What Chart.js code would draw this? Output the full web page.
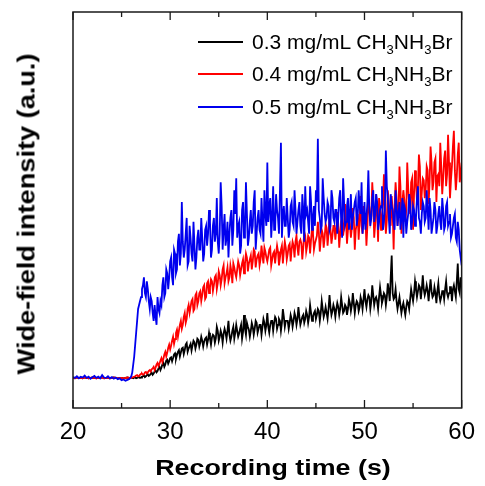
<!DOCTYPE html>
<html><head><meta charset="utf-8">
<script src="https://cdn.jsdelivr.net/npm/chart.js@4.4.1/dist/chart.umd.min.js"></script>
<style>
html,body{margin:0;padding:0;background:#fff;}
#wrap{position:relative;width:485px;height:486px;overflow:hidden;}
canvas{position:absolute;left:0;top:0;}
.leg{position:absolute;left:198px;height:24px;display:flex;align-items:center;font-family:"Liberation Sans",Arial,sans-serif;font-size:21px;color:#000;white-space:nowrap;}
.leg .ln{display:inline-block;width:45px;height:2px;margin-right:9px;}
.leg sub{font-size:13px;vertical-align:-5px;line-height:0;}
.atitle{position:absolute;font-family:"Liberation Sans",Arial,sans-serif;font-weight:bold;color:#000;white-space:nowrap;}
#xt{left:272.5px;top:457.4px;font-size:22px;line-height:22px;transform:translateX(-50%) scaleX(1.22);}
#yt{left:27px;top:214px;font-size:23px;line-height:23px;transform:translate(-50%,-50%) rotate(-90deg) scaleX(1.18);}
</style></head>
<body><div id="wrap"><canvas id="c" width="485" height="486"></canvas>
<div id="legend"></div>
<div id="xt" class="atitle"></div>
<div id="yt" class="atitle"></div>
</div>
<script>
// ---- data ----
const time = [
20.0,20.2,20.4,20.6,20.8,21.0,21.2,21.4,21.6,21.8,
22.0,22.2,22.4,22.6,22.8,23.0,23.2,23.4,23.6,23.8,
24.0,24.2,24.4,24.6,24.8,25.0,25.2,25.4,25.6,25.8,
26.0,26.1,26.2,26.3,26.4,26.5,26.6,26.7,26.8,26.9,
27.0,27.1,27.2,27.3,27.4,27.5,27.6,27.7,27.8,27.9,
28.0,28.1,28.2,28.3,28.4,28.5,28.6,28.7,28.8,28.9,
29.0,29.1,29.2,29.3,29.4,29.5,29.6,29.7,29.8,29.9,
30.0,30.1,30.2,30.3,30.4,30.5,30.6,30.7,30.8,30.9,
31.0,31.1,31.2,31.3,31.4,31.5,31.6,31.7,31.8,31.9,
32.0,32.1,32.2,32.3,32.4,32.5,32.6,32.7,32.8,32.9,
33.0,33.1,33.2,33.3,33.4,33.5,33.6,33.7,33.8,33.9,
34.0,34.1,34.2,34.3,34.4,34.5,34.6,34.7,34.8,34.9,
35.0,35.1,35.2,35.3,35.4,35.5,35.6,35.7,35.8,35.9,
36.0,36.1,36.2,36.3,36.4,36.5,36.6,36.7,36.8,36.9,
37.0,37.1,37.2,37.3,37.4,37.5,37.6,37.7,37.8,37.9,
38.0,38.1,38.2,38.3,38.4,38.5,38.6,38.7,38.8,38.9,
39.0,39.1,39.2,39.3,39.4,39.5,39.6,39.7,39.8,39.9,
40.0,40.1,40.2,40.3,40.4,40.5,40.6,40.7,40.8,40.9,
41.0,41.1,41.2,41.3,41.4,41.5,41.6,41.7,41.8,41.9,
42.0,42.1,42.2,42.3,42.4,42.5,42.6,42.7,42.8,42.9,
43.0,43.1,43.2,43.3,43.4,43.5,43.6,43.7,43.8,43.9,
44.0,44.1,44.2,44.3,44.4,44.5,44.6,44.7,44.8,44.9,
45.0,45.1,45.2,45.3,45.4,45.5,45.6,45.7,45.8,45.9,
46.0,46.1,46.2,46.3,46.4,46.5,46.6,46.7,46.8,46.9,
47.0,47.1,47.2,47.3,47.4,47.5,47.6,47.7,47.8,47.9,
48.0,48.1,48.2,48.3,48.4,48.5,48.6,48.7,48.8,48.9,
49.0,49.1,49.2,49.3,49.4,49.5,49.6,49.7,49.8,49.9,
50.0,50.1,50.2,50.3,50.4,50.5,50.6,50.7,50.8,50.9,
51.0,51.1,51.2,51.3,51.4,51.5,51.6,51.7,51.8,51.9,
52.0,52.1,52.2,52.3,52.4,52.5,52.6,52.7,52.8,52.9,
53.0,53.1,53.2,53.3,53.4,53.5,53.6,53.7,53.8,53.9,
54.0,54.1,54.2,54.3,54.4,54.5,54.6,54.7,54.8,54.9,
55.0,55.1,55.2,55.3,55.4,55.5,55.6,55.7,55.8,55.9,
56.0,56.1,56.2,56.3,56.4,56.5,56.6,56.7,56.8,56.9,
57.0,57.1,57.2,57.3,57.4,57.5,57.6,57.7,57.8,57.9,
58.0,58.1,58.2,58.3,58.4,58.5,58.6,58.7,58.8,58.9,
59.0,59.1,59.2,59.3,59.4,59.5,59.6,59.7,59.8,59.9,
60.0];

// 0.3 mg/mL (black)
const conc03 = [
7.6,7.5,7.7,7.6,7.6,7.5,7.7,7.6,7.5,7.6,
7.7,7.6,7.5,7.6,7.6,7.7,7.5,7.6,7.6,7.5,
7.6,7.7,7.6,7.5,7.6,7.6,7.5,7.6,7.7,7.6,
7.6,7.6,7.5,7.7,7.7,7.5,7.6,7.7,7.8,7.6,
7.7,7.9,8.0,8.2,7.8,8.0,8.3,8.5,8.1,8.3,
8.6,8.9,8.4,8.7,9.2,9.5,9.0,9.3,10.0,10.4,
9.6,10.2,11.0,11.4,10.4,11.0,12.0,12.2,11.2,11.8,
12.6,12.8,11.8,12.6,13.5,13.8,12.4,13.4,14.2,14.6,
13.0,14.0,15.0,15.2,13.6,14.6,16.0,16.4,14.2,15.0,
15.6,16.2,14.5,15.8,17.0,16.6,15.0,16.0,17.5,17.2,
15.5,16.5,18.0,17.0,15.5,16.8,17.5,17.8,16.0,17.2,
19.0,17.5,16.0,17.8,18.5,18.2,16.5,17.6,20.5,19.5,
17.0,18.0,19.5,18.5,16.5,18.8,20.0,19.0,17.5,19.5,
22.0,18.5,17.0,18.0,19.5,20.5,17.5,19.0,21.0,19.5,
18.0,18.8,20.0,21.0,17.5,19.2,23.5,20.0,18.5,21.5,
20.5,19.8,18.0,19.5,21.5,20.5,18.5,20.0,22.0,21.5,
19.0,20.0,21.0,21.0,18.5,20.5,22.5,21.5,19.5,21.0,
24.0,20.5,19.0,21.0,22.0,22.0,19.5,21.5,23.0,22.5,
20.0,21.0,22.5,22.0,19.5,21.5,25.0,23.0,20.5,22.0,
22.0,22.0,20.0,21.5,23.5,22.5,20.5,22.0,24.0,23.0,
21.0,22.5,25.5,23.0,21.0,22.0,23.0,23.5,21.5,22.5,
24.5,23.5,21.5,23.0,26.0,24.0,22.0,23.0,24.0,24.5,
22.5,23.5,25.0,24.5,22.0,24.0,27.0,25.0,23.0,24.0,
25.5,24.0,22.5,25.0,28.5,25.5,23.5,24.5,26.0,25.0,
23.0,25.0,26.5,25.5,23.5,25.0,28.0,26.0,24.0,24.5,
26.0,25.5,23.5,25.0,27.5,26.5,24.5,26.0,29.0,26.5,
24.0,26.0,27.0,26.5,24.5,25.5,28.0,27.0,25.0,27.5,
30.0,27.0,25.5,27.5,28.5,28.0,25.0,27.0,31.0,28.5,
26.0,27.5,28.0,27.0,25.0,28.0,30.5,28.5,26.5,27.5,
29.0,28.5,26.0,28.0,31.5,29.5,27.0,33.0,38.5,29.0,
27.5,28.0,30.0,27.0,25.0,26.5,28.0,26.0,24.0,25.5,
26.5,25.0,23.5,25.5,27.0,26.5,25.0,27.5,30.0,28.5,
27.0,29.0,32.0,30.0,28.0,29.5,31.0,30.5,27.5,30.0,
33.5,30.0,28.5,29.5,31.0,29.5,27.0,30.0,32.5,29.5,
28.0,28.5,30.5,29.0,26.5,29.5,31.5,28.5,27.0,28.0,
29.5,29.5,27.5,30.0,32.0,29.0,28.0,29.0,30.5,30.5,
27.0,30.0,31.0,29.5,28.0,32.0,36.5,30.0,29.0,33.0,
31.0];

// 0.4 mg/mL (red)
const conc04 = [
7.6,7.5,7.7,7.6,7.6,7.5,7.7,7.6,7.5,7.6,
7.7,7.6,7.5,7.6,7.6,7.7,7.5,7.6,7.6,7.5,
7.6,7.7,7.6,7.5,7.6,7.6,7.5,7.6,7.7,7.6,
7.6,7.7,7.8,7.9,8.0,8.2,8.3,8.0,8.1,8.4,
8.6,8.7,8.4,8.5,9.0,9.1,8.7,9.0,9.4,9.6,
9.2,9.8,10.0,10.4,9.6,10.2,11.0,11.4,10.6,11.2,
12.0,12.6,11.6,12.4,13.5,14.2,13.0,14.0,15.2,16.0,
14.8,15.8,17.0,18.0,16.2,17.4,19.0,19.8,18.0,19.5,
21.0,22.0,20.0,21.0,23.0,24.0,21.5,22.5,25.0,26.0,
24.0,25.5,27.0,27.5,24.5,25.0,28.5,29.0,26.0,27.0,
29.0,29.5,27.0,28.5,30.5,31.0,27.5,28.0,31.5,32.0,
29.0,30.5,32.5,32.0,29.5,31.0,33.0,33.5,30.0,31.5,
34.5,33.5,31.0,32.5,35.0,36.0,31.5,33.0,34.0,35.5,
32.0,33.0,36.0,34.5,31.5,36.5,35.5,34.0,33.0,35.0,
37.0,36.0,33.5,35.0,36.5,37.5,34.0,36.5,39.0,38.0,
34.5,36.5,37.5,38.5,35.0,37.0,40.0,39.5,35.5,37.5,
38.5,39.0,36.0,37.5,41.0,38.5,36.5,40.5,39.5,38.0,
37.0,38.5,40.0,40.5,36.0,37.5,39.0,39.5,36.5,39.0,
41.0,39.5,36.0,38.0,40.0,41.0,36.5,39.5,42.0,40.5,
37.5,39.0,41.0,41.5,37.0,40.0,42.0,41.0,38.0,42.0,
43.5,40.5,38.5,42.0,42.5,41.5,37.5,40.5,44.5,43.5,
39.5,41.0,43.5,43.0,39.0,42.5,45.5,44.0,40.0,41.5,
42.5,43.5,47.0,44.5,39.5,42.5,45.0,44.0,40.5,43.0,
46.5,45.5,41.0,44.0,48.5,45.0,41.5,43.5,46.0,46.0,
42.5,45.0,49.5,46.5,40.5,44.0,47.0,48.0,43.5,45.5,
51.5,47.0,41.5,45.0,48.0,46.5,43.0,45.5,50.5,48.0,
40.0,45.0,46.5,49.0,42.5,47.5,53.5,46.0,44.0,51.0,
48.5,48.0,41.0,46.0,53.0,50.5,47.0,48.5,57.0,52.0,
43.0,46.5,54.0,49.5,42.0,53.0,51.0,45.0,48.0,51.5,
59.0,50.0,44.0,47.5,55.0,52.0,49.0,46.0,53.5,49.5,
40.0,51.0,57.0,53.0,46.0,49.5,61.0,56.0,44.0,52.0,
55.0,52.5,47.0,50.0,62.0,55.5,51.0,49.0,57.0,58.0,
45.0,54.0,60.0,57.0,52.0,55.5,64.0,61.0,50.0,54.5,
58.0,57.5,53.0,55.0,61.0,60.0,51.5,57.0,66.0,62.0,
55.0,57.0,62.0,63.0,52.0,58.5,59.0,56.0,67.0,61.0,
54.0,58.0,63.0,65.0,56.0,59.0,69.0,62.0,53.0,57.5,
61.0,66.0,70.0,60.0,55.0,58.5,64.0,67.0,57.0,59.0,
62.0];

// 0.5 mg/mL (blue)
const conc05 = [
7.8,7.6,8.0,7.5,7.9,7.7,8.2,7.6,7.9,7.4,
7.8,8.1,7.6,7.9,7.5,8.3,7.7,7.6,8.0,7.5,
7.8,7.4,7.7,7.3,7.5,7.0,7.2,6.9,7.1,7.3,
8,9,11,13,16,19,22,25,26,27,
28,30,31,33,29,28,32,30,27,25,
28,27,24,22,26,23,21,28,25,24,
27,26,31,33,28,29,35,34,30,33,
37,38,33,31,40,39,34,35,42,44,
36,39,52,42,38,40,44,48,36,37,
46,43,39,37,47,41,35,38,43,45,
40,40,48,43,37,39,45,46,41,44,
50,47,38,40,46,48,42,44,53,42,
39,44,57,51,40,45,49,41,43,47,
38,44,48,50,41,45,55,49,58,43,
46,47,39,41,50,52,43,45,57,49,
41,43,47,50,44,46,52,55,40,44,
48,50,45,44,53,47,42,55,49,46,
62,47,51,53,43,48,56,45,45,54,
50,48,44,55,67,43,49,51,46,46,
53,48,43,45,51,52,47,46,55,50,
44,47,50,52,46,44,54,50,42,56,
49,50,47,44,56,52,45,48,51,46,
55,52,68,50,48,45,46,58,53,49,
47,48,52,51,45,46,55,53,48,47,
50,50,44,48,53,55,47,43,58,52,
46,47,51,53,45,49,54,45,48,50,
52,53,46,48,55,51,49,57,44,47,
52,45,48,52,60,50,46,48,53,55,
47,49,54,52,45,47,50,51,56,45,
47,50,65,56,53,48,44,54,51,50,
47,45,55,51,46,49,52,45,48,53,
43,51,50,44,47,49,54,52,45,47,
51,50,46,48,53,56,48,47,44,49,
52,51,47,48,55,50,45,53,50,44,
46,48,52,50,44,46,49,51,47,45,
53,50,45,46,51,52,46,47,49,43,
44,46,48,49,43,42,47,45,40,38,
36];

const seriesNames = ['0.3 mg/mL CH3NH3Br','0.4 mg/mL CH3NH3Br','0.5 mg/mL CH3NH3Br'];
const seriesColors = ['#000000','#ff0000','#0000ee'];
const xMajorTicks = [20,30,40,50,60];
const xMinorTicks = [25,35,45,55];
const xTitle = 'Recording time (s)';
const yTitle = 'Wide-field intensity (a.u.)';

// ---- legend and axis titles (HTML text) ----
document.getElementById('xt').textContent = xTitle;
document.getElementById('yt').textContent = yTitle;
const legend = document.getElementById('legend');
const legendTops = [30,62,95];
seriesNames.forEach((name,i)=>{
  const row = document.createElement('div');
  row.className='leg'; row.style.top = legendTops[i]+'px';
  const ln = document.createElement('span'); ln.className='ln'; ln.style.background=seriesColors[i];
  const tx = document.createElement('span');
  tx.innerHTML = name.replace(/CH3NH3Br/,'CH<sub>3</sub>NH<sub>3</sub>Br');
  row.appendChild(ln); row.appendChild(tx); legend.appendChild(row);
});

const toXY = arr => arr.map((v,i)=>({x:time[i], y:v}));

const frameTicks = {
  id:'frameTicks',
  afterDatasetsDraw(chart){
    const {ctx, chartArea:a, scales:{x}} = chart;
    ctx.save();
    ctx.strokeStyle='#1a1a1a';
    ctx.lineWidth=1.5;
    ctx.strokeRect(a.left, a.top, a.right-a.left, a.bottom-a.top);
    ctx.lineWidth=1.3;
    const tick=(v,len)=>{
      const px = x.getPixelForValue(v);
      ctx.beginPath();
      ctx.moveTo(px,a.bottom); ctx.lineTo(px,a.bottom-len);
      ctx.moveTo(px,a.top); ctx.lineTo(px,a.top+len);
      ctx.stroke();
    };
    xMajorTicks.forEach(v=>tick(v,8));
    xMinorTicks.forEach(v=>tick(v,5));
    ctx.restore();
  }
};

const FONT = '"Liberation Sans", Arial, sans-serif';
new Chart(document.getElementById('c'), {
  type:'line',
  data:{
    datasets:[
      {label:seriesNames[0], data:toXY(conc03), borderColor:seriesColors[0], borderWidth:1.8, pointRadius:0, tension:0, order:3},
      {label:seriesNames[1], data:toXY(conc04), borderColor:seriesColors[1], borderWidth:1.8, pointRadius:0, tension:0, order:2},
      {label:seriesNames[2], data:toXY(conc05), borderColor:seriesColors[2], borderWidth:1.8, pointRadius:0, tension:0, order:1}
    ]
  },
  options:{
    responsive:false, animation:false, devicePixelRatio:1,
    layout:{padding:{left:0,right:16,top:12,bottom:0}},
    plugins:{legend:{display:false}, tooltip:{enabled:false}},
    scales:{
      x:{type:'linear', min:20, max:60,
         ticks:{stepSize:10, color:'#000', font:{family:FONT,size:24}, padding:10, maxRotation:0},
         grid:{display:false, drawTicks:false}, border:{display:false},
         title:{display:false},
         afterFit(s){ s.height = 78; }
      },
      y:{min:0, max:100,
         ticks:{display:false},
         grid:{display:false, drawTicks:false}, border:{display:false},
         title:{display:false},
         afterFit(s){ s.width = 73; }
      }
    }
  },
  plugins:[frameTicks]
});
</script>
</body></html>
